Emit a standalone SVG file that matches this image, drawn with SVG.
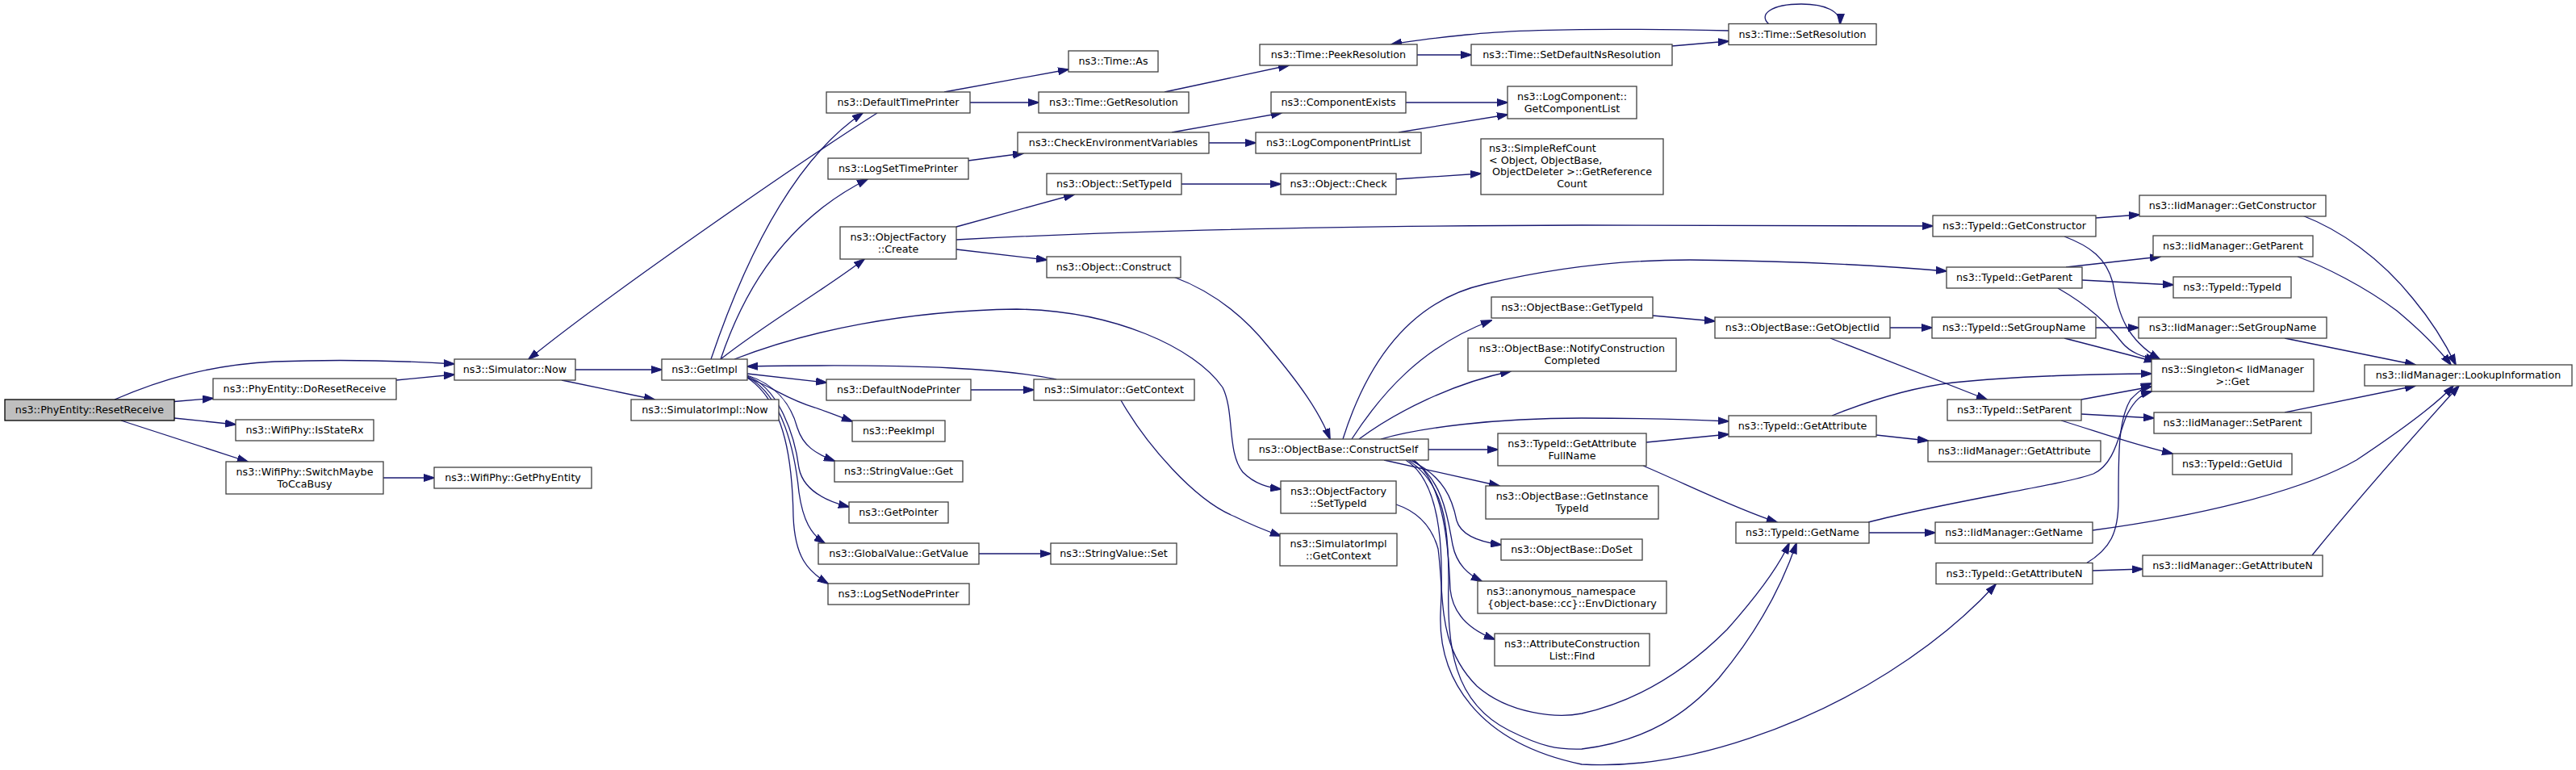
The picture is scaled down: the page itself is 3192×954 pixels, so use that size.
<svg xmlns="http://www.w3.org/2000/svg" width="3192" height="954" viewBox="0 0 3192 954">
<style>
.n rect{fill:#ffffff;stroke:#404040;stroke-width:1.3}
.root rect{fill:#bfbfbf;stroke:#000000;stroke-width:1.3}
text{font-family:"DejaVu Sans","Liberation Sans",sans-serif;font-size:12.7px;fill:#000000;text-anchor:middle}
text.l{text-anchor:start}
#edges path{fill:none;stroke:#191970;stroke-width:1.3;marker-end:url(#ah)}
</style>
<defs>
<marker id="ah" viewBox="0 0 14 10" refX="13" refY="5" markerWidth="14" markerHeight="10" markerUnits="userSpaceOnUse" orient="auto">
<path d="M0,0.5 L14,5 L0,9.5 z" fill="#191970" stroke="#191970" stroke-width="1"/>
</marker>
</defs>
<rect width="3192" height="954" fill="#ffffff"/>
<g id="edges">
<path d="M142,495 C200,470 260,452 340,448 C420,445 500,447 563,451"/>
<path d="M216,497.5 L264,493.5"/>
<path d="M216,518 L292,526"/>
<path d="M150,521 L307,572"/>
<path d="M491,471 L563,464"/>
<path d="M475,592 L538,592"/>
<path d="M1087,140 C1000,195 760,360 655,445"/>
<path d="M713,458 L820,458"/>
<path d="M696,471 L811,495"/>
<path d="M881,445 C920,330 980,200 1069,140"/>
<path d="M893,445 C915,380 960,280 1075,222"/>
<path d="M893,445 C950,400 1020,360 1071,321"/>
<path d="M910,445 C1000,410 1120,385 1260,383 C1380,385 1480,430 1515,480 C1530,510 1520,560 1540,585 C1555,600 1572,604 1587,606"/>
<path d="M1309,470 C1250,458 1150,450 926,454"/>
<path d="M1203,483 L1281,483"/>
<path d="M926,463 L1024,474"/>
<path d="M926,468 C955,478 975,495 1010,505 C1030,512 1045,518 1056,522"/>
<path d="M926,465 C960,476 980,500 988,530 C995,552 1010,562 1034,571"/>
<path d="M926,466 C965,480 985,540 990,580 C995,605 1020,620 1052,628"/>
<path d="M926,467 C970,490 985,560 990,610 C995,645 1005,662 1022,673"/>
<path d="M926,468 C975,500 982,580 983,640 C985,690 1000,707 1026,723"/>
<path d="M1213,686 L1302,686"/>
<path d="M1170,114 L1324,86"/>
<path d="M1202,127 L1287,127"/>
<path d="M1443,114 L1597,81"/>
<path d="M1200,199 L1268,190"/>
<path d="M1452,164 L1588,140"/>
<path d="M1498,177 L1556,177"/>
<path d="M1742,127 L1868,127"/>
<path d="M1733,164 L1868,142"/>
<path d="M1185,281 L1331,241"/>
<path d="M1185,297 C1350,288 1600,280 1960,279 L2395,280"/>
<path d="M1185,309 L1297,322"/>
<path d="M1464,228 L1587,228"/>
<path d="M1730,222 L1835,215"/>
<path d="M1756,68 L1823,68"/>
<path d="M2072,57 L2142,51"/>
<path d="M2142,38 C2050,36 1900,34 1818,43 C1780,47 1750,50 1724,55"/>
<path d="M2192,30 C2178,18 2195,5 2232,5 C2262,5 2281,14 2280,30"/>
<path d="M1454,343 C1500,360 1540,390 1572,430 C1610,475 1635,510 1648,544"/>
<path d="M1675,544 C1710,490 1760,430 1848,397"/>
<path d="M1684,544 C1730,510 1800,475 1872,460"/>
<path d="M1664,544 C1700,430 1760,370 1840,352 C1920,333 2000,322 2094,322 C2200,323 2320,328 2412,336"/>
<path d="M1711,544 C1760,530 1850,518 1960,518 C2040,518 2100,520 2142,522"/>
<path d="M1770,557 L1856,557"/>
<path d="M1715,570 L1858,602"/>
<path d="M1747,570 C1790,590 1800,620 1805,645 C1810,662 1830,671 1860,675"/>
<path d="M1750,570 C1790,595 1795,650 1800,675 C1805,700 1820,712 1836,720"/>
<path d="M1752,570 C1790,600 1795,680 1797,730 C1800,760 1820,780 1852,792"/>
<path d="M1730,625 C1760,635 1775,655 1782,680 C1790,740 1780,800 1830,850 C1870,885 1930,890 1960,884 C2040,866 2100,820 2140,780 C2180,735 2205,700 2217,673"/>
<path d="M1745,570 C1790,600 1795,650 1795,720 C1793,800 1800,870 1870,905 C1910,925 1930,929 1960,928 C2040,918 2090,885 2130,840 C2180,780 2210,720 2226,673"/>
<path d="M1742,570 C1790,600 1788,700 1785,760 C1782,840 1830,920 1960,947 C2100,955 2250,890 2340,833 C2400,795 2440,760 2473,724"/>
<path d="M1389,496 C1420,550 1480,620 1530,640 C1550,650 1570,658 1587,664"/>
<path d="M2048,391 L2125,398"/>
<path d="M2342,406 L2394,406"/>
<path d="M2268,419 L2462,495"/>
<path d="M2040,548 L2142,538"/>
<path d="M2036,577 C2090,600 2150,630 2202,647"/>
<path d="M2325,539 L2389,546"/>
<path d="M2270,515 C2320,495 2370,480 2420,474 C2500,466 2600,463 2666,463"/>
<path d="M2316,660 L2398,660"/>
<path d="M2315,647 C2420,620 2560,600 2594,587 C2620,575 2625,540 2635,515 C2645,495 2655,488 2666,485"/>
<path d="M2597,270 L2651,266"/>
<path d="M2558,293 C2590,305 2610,320 2618,350 C2625,390 2635,420 2676,445"/>
<path d="M2560,331 L2677,318"/>
<path d="M2580,347 L2693,353"/>
<path d="M2550,357 C2590,380 2610,400 2630,425 C2640,437 2655,442 2672,446"/>
<path d="M2597,406 L2650,406"/>
<path d="M2558,419 L2670,448"/>
<path d="M2579,495 L2666,479"/>
<path d="M2579,513 L2669,518"/>
<path d="M2554,521 C2600,535 2640,550 2692,562"/>
<path d="M2593,707 L2655,705"/>
<path d="M2585,698 C2615,680 2625,660 2625,620 C2625,560 2625,520 2640,495 C2650,485 2658,478 2666,475"/>
<path d="M2853,267 C2900,285 2950,320 2990,370 C3015,400 3030,425 3043,452"/>
<path d="M2847,318 C2880,330 2930,355 2970,385 C3000,410 3020,430 3037,452"/>
<path d="M2831,419 L2993,452"/>
<path d="M2831,511 L2993,478"/>
<path d="M2593,657 C2720,640 2850,610 2920,570 C2980,530 3020,500 3040,478"/>
<path d="M2865,688 C2920,620 3000,530 3047,478"/>
</g>
<g id="n_ResetReceive" class="root"><rect x="6" y="495" width="210" height="26"/><text x="111" y="512.4">ns3::PhyEntity::ResetReceive</text></g>
<g id="n_DoResetReceive" class="n"><rect x="264" y="469" width="227" height="26"/><text x="377.5" y="486.4">ns3::PhyEntity::DoResetReceive</text></g>
<g id="n_IsStateRx" class="n"><rect x="292" y="520" width="171" height="26"/><text x="377.5" y="537.4">ns3::WifiPhy::IsStateRx</text></g>
<g id="n_SwitchMaybeToCcaBusy" class="n"><rect x="280" y="572" width="195" height="40"/><text x="377.5" y="588.5">ns3::WifiPhy::SwitchMaybe</text><text x="377.5" y="603.5">ToCcaBusy</text></g>
<g id="n_SimulatorNow" class="n"><rect x="563" y="445" width="150" height="26"/><text x="638" y="462.4">ns3::Simulator::Now</text></g>
<g id="n_GetPhyEntity" class="n"><rect x="538" y="579" width="195" height="26"/><text x="635.5" y="596.4">ns3::WifiPhy::GetPhyEntity</text></g>
<g id="n_GetImpl" class="n"><rect x="820" y="445" width="106" height="26"/><text x="873" y="462.4">ns3::GetImpl</text></g>
<g id="n_SimulatorImplNow" class="n"><rect x="782" y="495" width="183" height="26"/><text x="873.5" y="512.4">ns3::SimulatorImpl::Now</text></g>
<g id="n_DefaultTimePrinter" class="n"><rect x="1024" y="114" width="178" height="26"/><text x="1113" y="131.4">ns3::DefaultTimePrinter</text></g>
<g id="n_LogSetTimePrinter" class="n"><rect x="1026" y="196" width="174" height="26"/><text x="1113" y="213.4">ns3::LogSetTimePrinter</text></g>
<g id="n_ObjectFactoryCreate" class="n"><rect x="1041" y="281" width="144" height="40"/><text x="1113" y="297.5">ns3::ObjectFactory</text><text x="1113" y="312.5">::Create</text></g>
<g id="n_DefaultNodePrinter" class="n"><rect x="1024" y="470" width="179" height="26"/><text x="1113.5" y="487.4">ns3::DefaultNodePrinter</text></g>
<g id="n_PeekImpl" class="n"><rect x="1056" y="521" width="115" height="26"/><text x="1113.5" y="538.4">ns3::PeekImpl</text></g>
<g id="n_StringValueGet" class="n"><rect x="1034" y="571" width="159" height="26"/><text x="1113.5" y="588.4">ns3::StringValue::Get</text></g>
<g id="n_GetPointer" class="n"><rect x="1052" y="622" width="123" height="26"/><text x="1113.5" y="639.4">ns3::GetPointer</text></g>
<g id="n_GlobalValueGetValue" class="n"><rect x="1014" y="673" width="199" height="26"/><text x="1113.5" y="690.4">ns3::GlobalValue::GetValue</text></g>
<g id="n_LogSetNodePrinter" class="n"><rect x="1026" y="723" width="175" height="26"/><text x="1113.5" y="740.4">ns3::LogSetNodePrinter</text></g>
<g id="n_TimeAs" class="n"><rect x="1324" y="63" width="111" height="26"/><text x="1379.5" y="80.4">ns3::Time::As</text></g>
<g id="n_TimeGetResolution" class="n"><rect x="1287" y="114" width="186" height="26"/><text x="1380" y="131.4">ns3::Time::GetResolution</text></g>
<g id="n_CheckEnvironmentVariables" class="n"><rect x="1261" y="164" width="237" height="26"/><text x="1379.5" y="181.4">ns3::CheckEnvironmentVariables</text></g>
<g id="n_ObjectSetTypeId" class="n"><rect x="1297" y="215" width="167" height="26"/><text x="1380.5" y="232.4">ns3::Object::SetTypeId</text></g>
<g id="n_ObjectConstruct" class="n"><rect x="1297" y="318" width="166" height="26"/><text x="1380" y="335.4">ns3::Object::Construct</text></g>
<g id="n_SimulatorGetContext" class="n"><rect x="1281" y="470" width="199" height="26"/><text x="1380.5" y="487.4">ns3::Simulator::GetContext</text></g>
<g id="n_StringValueSet" class="n"><rect x="1302" y="673" width="156" height="26"/><text x="1380" y="690.4">ns3::StringValue::Set</text></g>
<g id="n_TimePeekResolution" class="n"><rect x="1561" y="55" width="195" height="26"/><text x="1658.5" y="72.4">ns3::Time::PeekResolution</text></g>
<g id="n_ComponentExists" class="n"><rect x="1575" y="114" width="167" height="26"/><text x="1658.5" y="131.4">ns3::ComponentExists</text></g>
<g id="n_LogComponentPrintList" class="n"><rect x="1556" y="164" width="205" height="26"/><text x="1658.5" y="181.4">ns3::LogComponentPrintList</text></g>
<g id="n_ObjectCheck" class="n"><rect x="1587" y="215" width="143" height="26"/><text x="1658.5" y="232.4">ns3::Object::Check</text></g>
<g id="n_ConstructSelf" class="n"><rect x="1547" y="544" width="223" height="26"/><text x="1658.5" y="561.4">ns3::ObjectBase::ConstructSelf</text></g>
<g id="n_ObjectFactorySetTypeId" class="n"><rect x="1587" y="596" width="143" height="40"/><text x="1658.5" y="612.5">ns3::ObjectFactory</text><text x="1658.5" y="627.5">::SetTypeId</text></g>
<g id="n_SimulatorImplGetContext" class="n"><rect x="1586" y="661" width="145" height="40"/><text x="1658.5" y="677.5">ns3::SimulatorImpl</text><text x="1658.5" y="692.5">::GetContext</text></g>
<g id="n_SetDefaultNsResolution" class="n"><rect x="1823" y="55" width="249" height="26"/><text x="1947.5" y="72.4">ns3::Time::SetDefaultNsResolution</text></g>
<g id="n_GetComponentList" class="n"><rect x="1868" y="107" width="160" height="40"/><text x="1948" y="123.5">ns3::LogComponent::</text><text x="1948" y="138.5">GetComponentList</text></g>
<g id="n_SimpleRefCount" class="n"><rect x="1835" y="172" width="226" height="69"/><text class="l" x="1845" y="187.7">ns3::SimpleRefCount</text><text class="l" x="1845" y="202.5">&lt; Object, ObjectBase,</text><text class="l" x="1849" y="217.3">ObjectDeleter &gt;::GetReference</text><text x="1948" y="232.1">Count</text></g>
<g id="n_ObjectBaseGetTypeId" class="n"><rect x="1848" y="368" width="200" height="26"/><text x="1948" y="385.4">ns3::ObjectBase::GetTypeId</text></g>
<g id="n_NotifyConstructionCompleted" class="n"><rect x="1819" y="419" width="258" height="41"/><text x="1948" y="436">ns3::ObjectBase::NotifyConstruction</text><text x="1948" y="451">Completed</text></g>
<g id="n_GetAttributeFullName" class="n"><rect x="1856" y="537" width="184" height="40"/><text x="1948" y="553.5">ns3::TypeId::GetAttribute</text><text x="1948" y="568.5">FullName</text></g>
<g id="n_GetInstanceTypeId" class="n"><rect x="1841" y="602" width="214" height="41"/><text x="1948" y="619">ns3::ObjectBase::GetInstance</text><text x="1948" y="634">TypeId</text></g>
<g id="n_DoSet" class="n"><rect x="1860" y="668" width="175" height="26"/><text x="1947.5" y="685.4">ns3::ObjectBase::DoSet</text></g>
<g id="n_EnvDictionary" class="n"><rect x="1831" y="720" width="234" height="40"/><text class="l" x="1842" y="736.5">ns3::anonymous_namespace</text><text x="1948" y="751.5">{object-base::cc}::EnvDictionary</text></g>
<g id="n_AttributeConstructionListFind" class="n"><rect x="1852" y="785" width="192" height="40"/><text x="1948" y="801.5">ns3::AttributeConstruction</text><text x="1948" y="816.5">List::Find</text></g>
<g id="n_TimeSetResolution" class="n"><rect x="2142" y="29.5" width="183" height="26"/><text x="2233.5" y="46.9">ns3::Time::SetResolution</text></g>
<g id="n_GetObjectIid" class="n"><rect x="2125" y="393" width="217" height="26"/><text x="2233.5" y="410.4">ns3::ObjectBase::GetObjectIid</text></g>
<g id="n_TypeIdGetAttribute" class="n"><rect x="2142" y="515" width="183" height="26"/><text x="2233.5" y="532.4">ns3::TypeId::GetAttribute</text></g>
<g id="n_TypeIdGetName" class="n"><rect x="2151" y="647" width="165" height="26"/><text x="2233.5" y="664.4">ns3::TypeId::GetName</text></g>
<g id="n_TypeIdGetConstructor" class="n"><rect x="2395" y="267" width="202" height="26"/><text x="2496" y="284.4">ns3::TypeId::GetConstructor</text></g>
<g id="n_TypeIdGetParent" class="n"><rect x="2412" y="331" width="168" height="26"/><text x="2496" y="348.4">ns3::TypeId::GetParent</text></g>
<g id="n_TypeIdSetGroupName" class="n"><rect x="2394" y="393" width="203" height="26"/><text x="2495.5" y="410.4">ns3::TypeId::SetGroupName</text></g>
<g id="n_TypeIdSetParent" class="n"><rect x="2413" y="495" width="166" height="26"/><text x="2496" y="512.4">ns3::TypeId::SetParent</text></g>
<g id="n_IidManagerGetAttribute" class="n"><rect x="2389" y="546" width="214" height="26"/><text x="2496" y="563.4">ns3::IidManager::GetAttribute</text></g>
<g id="n_IidManagerGetName" class="n"><rect x="2398" y="647" width="195" height="26"/><text x="2495.5" y="664.4">ns3::IidManager::GetName</text></g>
<g id="n_TypeIdGetAttributeN" class="n"><rect x="2399" y="697.5" width="194" height="26"/><text x="2496" y="714.9">ns3::TypeId::GetAttributeN</text></g>
<g id="n_IidManagerGetConstructor" class="n"><rect x="2651" y="242" width="231" height="26"/><text x="2766.5" y="259.4">ns3::IidManager::GetConstructor</text></g>
<g id="n_IidManagerGetParent" class="n"><rect x="2668" y="292" width="198" height="26"/><text x="2767" y="309.4">ns3::IidManager::GetParent</text></g>
<g id="n_TypeIdTypeId" class="n"><rect x="2693" y="343" width="146" height="26"/><text x="2766" y="360.4">ns3::TypeId::TypeId</text></g>
<g id="n_IidManagerSetGroupName" class="n"><rect x="2650" y="393" width="233" height="26"/><text x="2766.5" y="410.4">ns3::IidManager::SetGroupName</text></g>
<g id="n_SingletonGet" class="n"><rect x="2666" y="445" width="201" height="40"/><text x="2766.5" y="461.5">ns3::Singleton&lt; IidManager</text><text x="2766.5" y="476.5">&gt;::Get</text></g>
<g id="n_IidManagerSetParent" class="n"><rect x="2669" y="511" width="195" height="26"/><text x="2766.5" y="528.4">ns3::IidManager::SetParent</text></g>
<g id="n_TypeIdGetUid" class="n"><rect x="2692" y="562" width="148" height="26"/><text x="2766" y="579.4">ns3::TypeId::GetUid</text></g>
<g id="n_IidManagerGetAttributeN" class="n"><rect x="2655" y="688" width="223" height="26"/><text x="2766.5" y="705.4">ns3::IidManager::GetAttributeN</text></g>
<g id="n_LookupInformation" class="n"><rect x="2930" y="452" width="257" height="26"/><text x="3058.5" y="469.4">ns3::IidManager::LookupInformation</text></g>
</svg>
